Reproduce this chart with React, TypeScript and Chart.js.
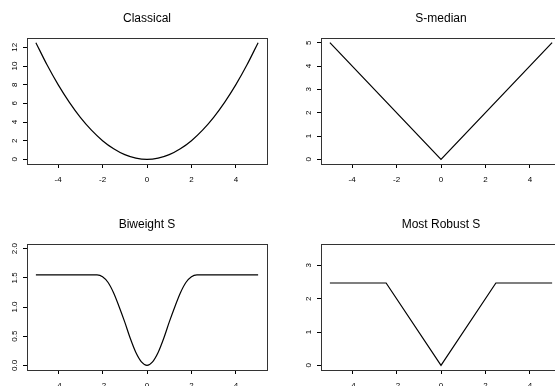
import React, { useEffect, useRef } from "react";
import { Chart, registerables } from "chart.js";

Chart.register(...registerables);

// ---- data ----
const xTicks = [-4, -2, 0, 2, 4];
const xLimits = [-5.4, 5.4];

const classicalX = [-5, -4.5, -4, -3.5, -3, -2.5, -2, -1.5, -1, -0.5, 0, 0.5, 1, 1.5, 2, 2.5, 3, 3.5, 4, 4.5, 5];
const classicalY = [12.5, 10.13, 8, 6.13, 4.5, 3.13, 2, 1.13, 0.5, 0.13, 0, 0.13, 0.5, 1.13, 2, 3.13, 4.5, 6.13, 8, 10.13, 12.5];
const classicalTicks = [0, 2, 4, 6, 8, 10, 12];
const classicalLimits = [-0.5, 13];

const smedianX = [-5, 0, 5];
const smedianY = [5, 0, 5];
const smedianTicks = [0, 1, 2, 3, 4, 5];
const smedianLimits = [-0.2, 5.2];

const biweightX = [-5, -2.4, -2.25, -2, -1.75, -1.5, -1.25, -1, -0.75, -0.5, -0.25, 0, 0.25, 0.5, 0.75, 1, 1.25, 1.5, 1.75, 2, 2.25, 2.4, 5];
const biweightY = [1.55, 1.55, 1.55, 1.52, 1.42, 1.24, 1.0, 0.74, 0.46, 0.22, 0.06, 0, 0.06, 0.22, 0.46, 0.74, 1.0, 1.24, 1.42, 1.52, 1.55, 1.55, 1.55];
const biweightTicks = [0, 0.5, 1, 1.5, 2];
const biweightLimits = [-0.08, 2.08];

const robustX = [-5, -2.47, 0, 2.47, 5];
const robustY = [2.47, 2.47, 0, 2.47, 2.47];
const robustTicks = [0, 1, 2, 3];
const robustLimits = [-0.14, 3.64];

const FONT = '"Liberation Sans", Arial, Helvetica, sans-serif';

type Spec = {
  title: string;
  xs: number[];
  ys: number[];
  yTicks: number[];
  yLim: number[];
  decimals: number;
  smooth: boolean;
  left: number;
  top: number;
  yPad: number;
};

const panels: Spec[] = [
  { title: "Classical", xs: classicalX, ys: classicalY, yTicks: classicalTicks, yLim: classicalLimits, decimals: 0, smooth: true, left: 0, top: 0, yPad: 4.05 },
  { title: "S-median", xs: smedianX, ys: smedianY, yTicks: smedianTicks, yLim: smedianLimits, decimals: 0, smooth: false, left: 294, top: 0, yPad: 6.3 },
  { title: "Biweight S", xs: biweightX, ys: biweightY, yTicks: biweightTicks, yLim: biweightLimits, decimals: 1, smooth: true, left: 0, top: 206, yPad: 2.95 },
  { title: "Most Robust S", xs: robustX, ys: robustY, yTicks: robustTicks, yLim: robustLimits, decimals: 0, smooth: false, left: 294, top: 206, yPad: 6.3 },
];

const framePlugin = {
  id: "frame",
  afterDraw(chart: any) {
    const { ctx, chartArea: a } = chart;
    ctx.save();
    ctx.strokeStyle = "#333";
    ctx.lineWidth = 1;
    ctx.strokeRect(Math.round(a.left) + 0.5, Math.round(a.top) + 0.5, Math.round(a.right - a.left), Math.round(a.bottom - a.top));
    ctx.restore();
  },
};

function Panel({ spec }: { spec: Spec }) {
  const ref = useRef<HTMLCanvasElement>(null);
  useEffect(() => {
    const chart = new Chart(ref.current as HTMLCanvasElement, {
      type: "scatter",
      data: {
        datasets: [
          {
            data: spec.xs.map((x, i) => ({ x, y: spec.ys[i] })),
            showLine: true,
            pointRadius: 0,
            borderColor: "#000",
            borderWidth: 1.2,
            cubicInterpolationMode: spec.smooth ? "monotone" : "default",
            tension: 0,
          } as any,
        ],
      },
      options: {
        animation: false,
        responsive: false,
        devicePixelRatio: 1,
        layout: { padding: { left: 0, right: 10, top: 0, bottom: 0 } },
        plugins: {
          legend: { display: false },
          tooltip: { enabled: false },
          title: {
            display: true,
            text: spec.title,
            fullSize: false,
            color: "#000",
            font: { family: FONT, size: 12, weight: "normal" },
            padding: { top: 11, bottom: 12.6 },
          },
        },
        scales: {
          x: {
            type: "linear",
            min: xLimits[0],
            max: xLimits[1],
            afterBuildTicks: (s: any) => {
              s.ticks = xTicks.map((v) => ({ value: v }));
            },
            afterFit: (s: any) => {
              s.height = 36;
            },
            grid: { display: true, drawOnChartArea: false, drawTicks: true, tickLength: 4, tickColor: "#000", tickWidth: 1 },
            border: { display: true, color: "#000", width: 1 },
            ticks: {
              font: { family: FONT, size: 8 },
              color: "#000",
              padding: 7,
              maxRotation: 0,
              autoSkip: false,
              callback: (v: any) => String(v),
            },
          },
          y: {
            type: "linear",
            min: spec.yLim[0],
            max: spec.yLim[1],
            afterBuildTicks: (s: any) => {
              s.ticks = spec.yTicks.map((v) => ({ value: v }));
            },
            afterFit: (s: any) => {
              s.width = 27;
            },
            grid: { display: true, drawOnChartArea: false, drawTicks: true, tickLength: 4, tickColor: "#000", tickWidth: 1 },
            border: { display: true, color: "#000", width: 1 },
            ticks: {
              font: { family: FONT, size: 8 },
              color: "#000",
              padding: spec.yPad,
              minRotation: 90,
              maxRotation: 90,
              crossAlign: "center",
              autoSkip: false,
              callback: (v: any) => Number(v).toFixed(spec.decimals),
            },
          },
        },
      } as any,
      plugins: [framePlugin],
    });
    return () => chart.destroy();
  }, [spec]);
  return (
    <div style={{ position: "absolute", left: spec.left, top: spec.top, width: 277, height: 200 }}>
      <canvas ref={ref} width={277} height={200} style={{ display: "block" }} />
    </div>
  );
}

export default function App() {
  return (
    <div
      style={{
        position: "absolute",
        left: 0,
        top: 0,
        width: 555,
        height: 386,
        overflow: "hidden",
        background: "#fff",
      }}
    >
      {panels.map((p) => (
        <Panel key={p.title} spec={p} />
      ))}
    </div>
  );
}
